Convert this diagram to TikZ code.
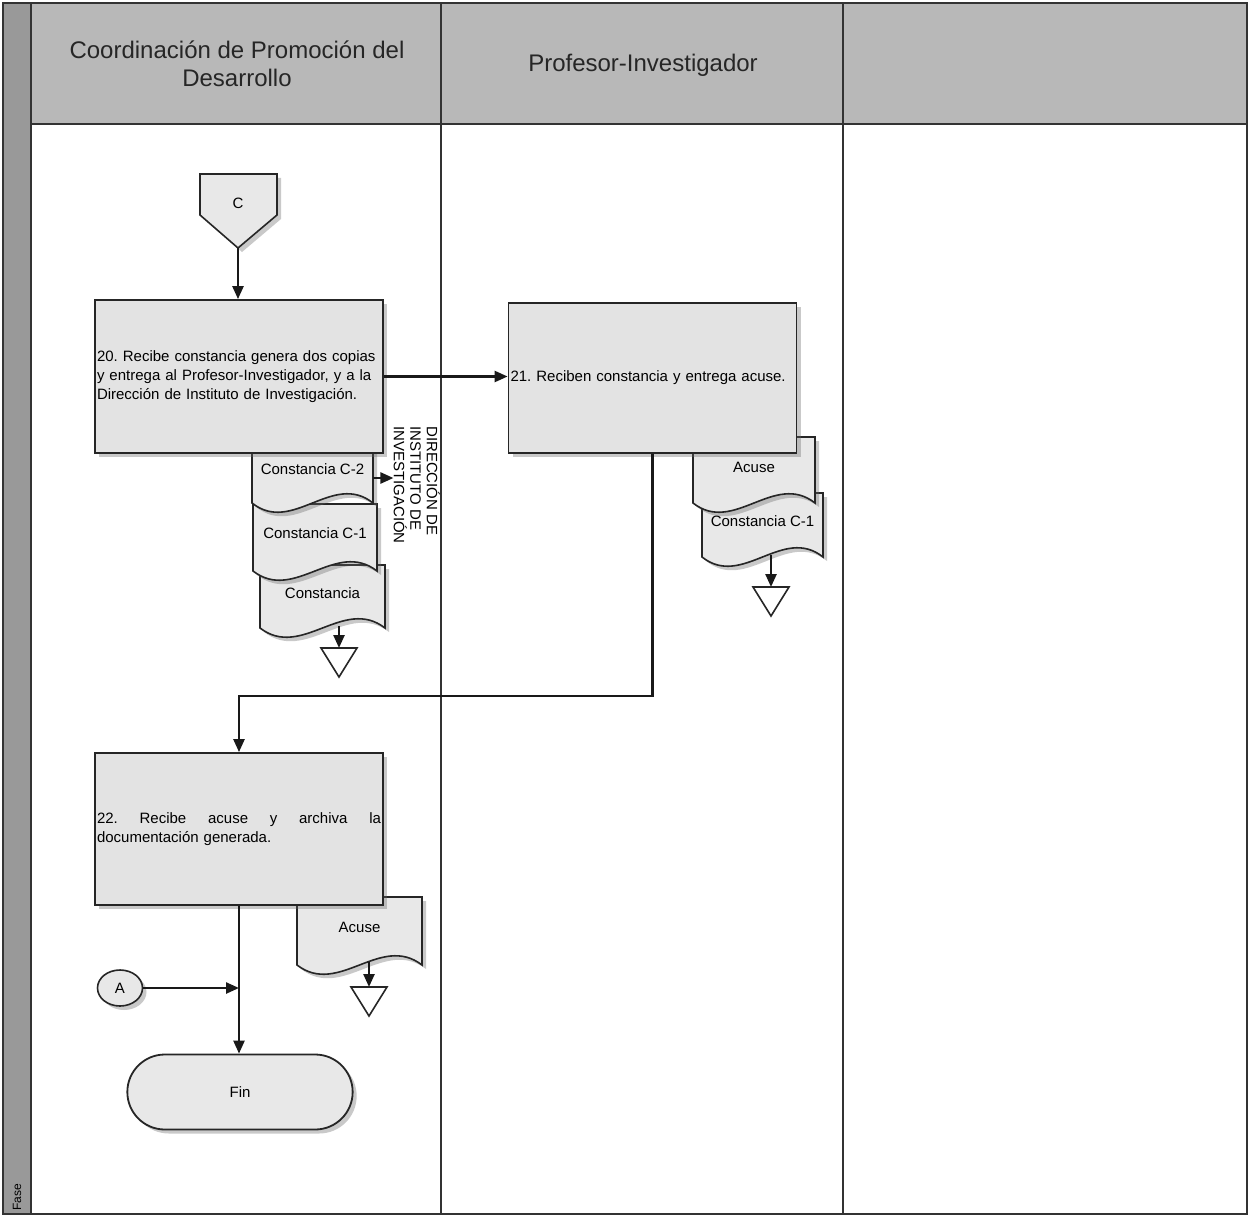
\documentclass[tikz,border=0pt]{standalone}
\usepackage{fontspec}
\setmainfont{Liberation Sans}
\usetikzlibrary{arrows.meta,shapes.geometric,shapes.misc,shadows}
\frenchspacing

\tikzset{
 lane/.style={draw=black!80, line width=1.6pt},
 shdw/.style={drop shadow={shadow xshift=4pt,shadow yshift=-4pt,opacity=.35,fill=black!60}},
 proc/.style={draw=black!85, line width=1.8pt, fill=black!11, shdw, minimum width=288pt, inner sep=2pt, text width=284pt, align=left, font=\fontsize{15}{19}\selectfont},
 arr/.style={line width=2.4pt, draw=black!90, -{Triangle[length=13pt,width=11pt]}},
 docbody/.style={draw=black!85, line width=1.6pt, fill=black!9, shdw},
 dtext/.style={font=\fontsize{15}{18}\selectfont, inner sep=0pt},
 archive/.style={draw=black!85, line width=1.6pt, fill=white},
 hdr/.style={font=\fontsize{24}{28}\selectfont, align=center, text=black!85},
}

\newcommand{\docsh}[7]{%
 \draw[docbody] (#2,#3) -- (#2,#5) .. controls ({#2+#4/3},{#5+32}) and ({#2+2*#4/3},{#5-32}) .. ({#2+#4},#5) -- ({#2+#4},#3) -- cycle;
 \node[dtext, minimum width=#4pt] (#1) at ({#2+#4/2},#7) {#6};
}
\newcommand{\archsh}[3]{%
 \draw[archive] ({#2-18},#3) -- ({#2+18},#3) -- (#2,{#3+29}) -- cycle;
 \coordinate (#1) at (#2,#3);
}

\begin{document}
\begin{tikzpicture}[x=1pt,y=-1pt, font=\fontsize{15}{18}\selectfont]
\useasboundingbox (0,0) rectangle (1249,1217);
\fill[white] (0,0) rectangle (1249,1217);

% frame
\fill[black!28] (31,3) rectangle (1247,124);
\fill[black!40] (3,3) rectangle (31,1214);
\draw[lane] (3,3) rectangle (1247,1214);
\draw[lane] (31,3) -- (31,1214);
\draw[lane] (441,3) -- (441,1214);
\draw[lane] (843,3) -- (843,1214);
\draw[lane] (31,124) -- (1247,124);

\node[hdr] (h1) at (237,64) {Coordinación de Promoción del\\Desarrollo};
\node[hdr] (h2) at (643,65) {Profesor-Investigador};
\node[rotate=90, anchor=west, font=\fontsize{12}{14}\selectfont, inner sep=0pt] (fase) at (17,1211) {Fase};

% connector C
\draw[docbody] (200,174) -- (277,174) -- (277,215) -- (238,248) -- (200,215) -- cycle;
\node (C) at (238,203) {C};
\coordinate (Ctip) at (238,248);

% documents under box 20
\docsh{d3}{260}{565}{125}{628}{Constancia}{593}
\docsh{d2}{253}{504}{124}{571}{Constancia C-1}{533}
\docsh{d1}{252}{438}{121}{503}{Constancia C-2}{469}
\archsh{t1}{339}{648}
\coordinate (d3out) at (339,626);
\draw[arr] (d3out) -- (t1);

% box 20
\node[proc, minimum height=153pt] (b20) at (239,376.5) {20. Recibe constancia genera dos copias\\y entrega al Profesor-Investigador, y a la\\Dirección de Instituto de Investigación.};
\draw[arr] (Ctip) -- (Ctip |- b20.north);

\node[rotate=-90, anchor=north west, align=left, font=\fontsize{15}{16.5}\selectfont, inner sep=0pt] (dir) at (440,426) {DIRECCIÓN DE\\INSTITUTO DE\\INVESTIGACIÓN};
\draw[arr] ([yshift=-9pt]d1.east) -- ([yshift=-9pt]d1.east -| dir.south);

% documents under box 21
\docsh{a2}{702}{493}{121}{557}{Constancia C-1}{521}
\docsh{a1}{693}{437}{122}{503}{Acuse}{467}
\archsh{t2}{771}{587}
\coordinate (a2out) at (771,555);
\draw[arr] (a2out) -- (t2);

% box 21
\node[proc, minimum height=150pt] (b21) at (652.5,378) {21. Reciben constancia y entrega acuse.};
\draw[arr] (b20.east) -- (b20.east -| b21.west);

% documents under box 22
\docsh{g1}{297}{897}{125}{965}{Acuse}{927}
\archsh{t3}{369}{987}
\coordinate (g1out) at (369,962);
\draw[arr] (g1out) -- (t3);

% box 22
\node[proc, minimum height=152pt] (b22) at (239,829) {22.\hfill Recibe\hfill acuse\hfill y\hfill archiva\hfill la\\documentación generada.};
\draw[arr] (b21.south) -- ++(0,242) -| (b22.north);

% A connector and Fin
\node[ellipse, draw=black!85, line width=1.6pt, fill=black!9, shdw, minimum width=45pt, minimum height=36pt, inner sep=0pt] (A) at (120,988) {A};
\node[rounded rectangle, draw=black!85, line width=1.8pt, fill=black!9, shdw, minimum width=232pt, minimum height=75pt] (fin) at (240,1092) {Fin};
\draw[arr] (b22.south) -- (b22.south |- fin.north);
\draw[arr] (A.east) -- (A.east -| b22.south);
\end{tikzpicture}
\end{document}
